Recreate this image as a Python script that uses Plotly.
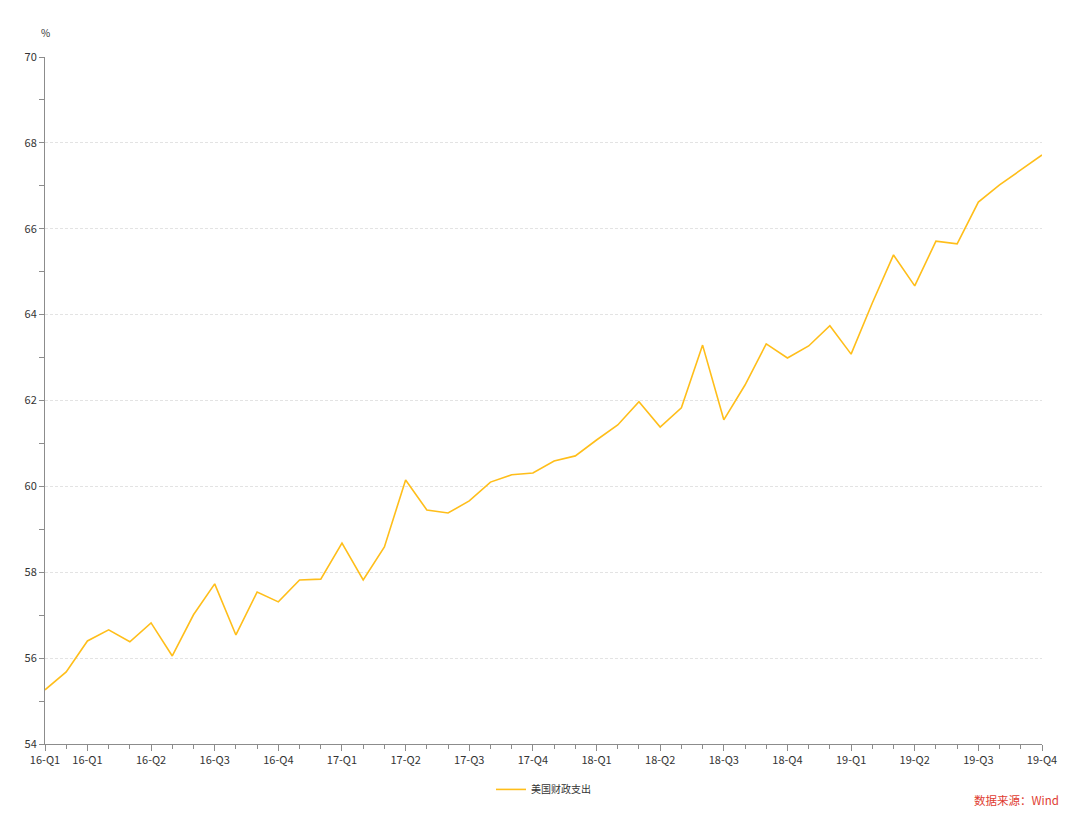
import plotly.graph_objects as go

# monthly series, Jan 2016 - Dec 2019
values = [
    55.26, 55.68, 56.40, 56.66, 56.38, 56.82, 56.05, 57.01, 57.73, 56.54, 57.54, 57.31,
    57.82, 57.84, 58.68, 57.82, 58.59, 60.15, 59.45, 59.38, 59.66, 60.10, 60.27, 60.31,
    60.59, 60.71, 61.08, 61.43, 61.97, 61.38, 61.83, 63.29, 61.55, 62.36, 63.32, 62.99,
    63.27, 63.74, 63.08, 64.27, 65.39, 64.67, 65.71, 65.65, 66.62, 67.02, 67.37, 67.72,
]
tick_idx = [0, 2, 5, 8, 11, 14, 17, 20, 23, 26, 29, 32, 35, 38, 41, 44, 47]
tick_labels = [
    '16-Q1', '16-Q1', '16-Q2', '16-Q3', '16-Q4', '17-Q1', '17-Q2', '17-Q3', '17-Q4',
    '18-Q1', '18-Q2', '18-Q3', '18-Q4', '19-Q1', '19-Q2', '19-Q3', '19-Q4',
]
series_name = '美国财政支出'

font_family = 'Noto Sans CJK SC, Noto Sans, sans-serif'
axis_color = '#8c8c8c'

fig = go.Figure()
fig.add_trace(go.Scatter(
    x=list(range(len(values))),
    y=values,
    mode='lines',
    name=series_name,
    line=dict(color='#FFBE1A', width=1.6),
))

# margins allow for the 8px page body margin
fig.update_layout(
    width=1080,
    height=814,
    margin=dict(l=37, r=46, t=49, b=78),
    paper_bgcolor='white',
    plot_bgcolor='white',
    font=dict(family=font_family, size=11, color='#333333'),
    showlegend=True,
    legend=dict(
        orientation='h',
        x=0.5, xanchor='center',
        y=-0.045, yanchor='top',
        font=dict(size=10, color='#333333'),
    ),
    xaxis=dict(
        range=[0, len(values) - 1],
        tickmode='array',
        tickvals=tick_idx,
        ticktext=tick_labels,
        ticks='outside',
        ticklen=6,
        tickcolor=axis_color,
        showline=True,
        linecolor=axis_color,
        linewidth=1,
        showgrid=False,
        zeroline=False,
        minor=dict(tickmode='array', tickvals=list(range(len(values))),
                   ticks='outside', ticklen=4, tickcolor=axis_color),
    ),
    yaxis=dict(
        range=[54, 70],
        dtick=2,
        ticks='outside',
        ticklen=5,
        tickcolor=axis_color,
        showline=True,
        linecolor=axis_color,
        linewidth=1,
        showgrid=True,
        gridcolor='#e3e3e3',
        griddash='3px,2px',
        zeroline=False,
        minor=dict(dtick=1, ticks='outside', ticklen=5, tickcolor=axis_color, showgrid=False),
    ),
    annotations=[
        dict(text='%', xref='paper', yref='paper', x=0, y=1, xshift=0, yshift=25,
             xanchor='center', yanchor='middle', showarrow=False,
             font=dict(size=10, color='#333333')),
        dict(text='数据来源：Wind', xref='paper', yref='paper', x=1, y=0,
             xshift=19, yshift=-56, xanchor='right', yanchor='middle', showarrow=False,
             font=dict(size=11.5, color='#e03c31')),
    ],
)

fig.write_html('out.html')
